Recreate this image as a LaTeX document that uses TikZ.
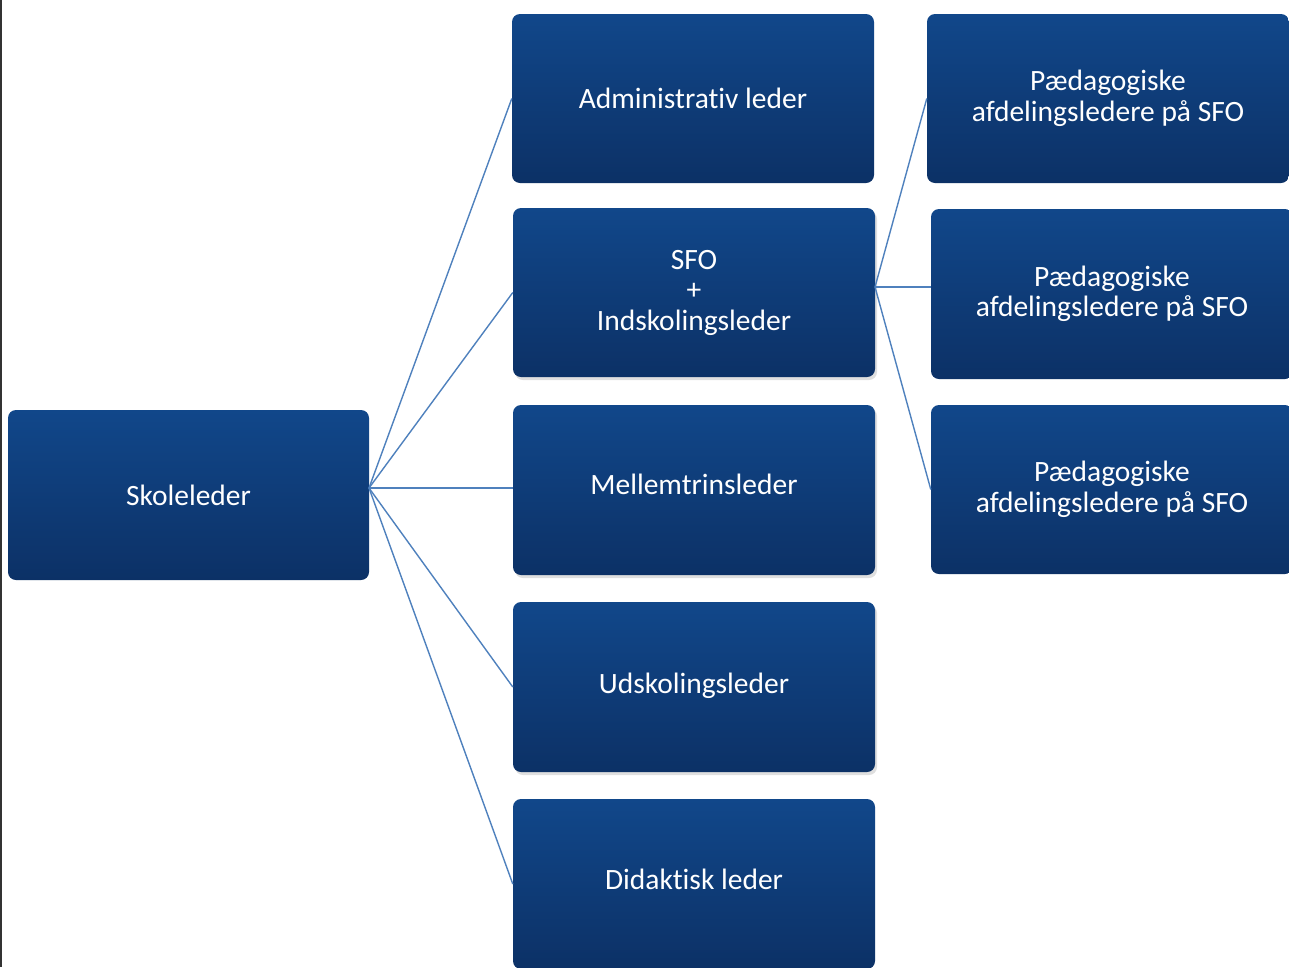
\documentclass[tikz,border=0pt]{standalone}
\usepackage{fontspec}
\setmainfont{Carlito}[Ligatures={NoCommon,NoRare}]
\usetikzlibrary{shadows}
\definecolor{boxtop}{HTML}{11478A}
\definecolor{boxbot}{HTML}{0C3166}
\definecolor{conn}{HTML}{4F81BD}
\tikzset{
  orgbox/.style={rectangle, rounded corners=8pt, top color=boxtop, bottom color=boxbot,
    draw=none, text=white, align=center, inner sep=0pt,
    font=\fontsize{29.5}{30.5}\selectfont},
  shadowbox/.style={orgbox, drop shadow={opacity=0.25, shadow xshift=2pt, shadow yshift=-3pt}},
  link/.style={draw=conn, line width=1.4pt}
}
\begin{document}
\begin{tikzpicture}[x=1pt,y=-1pt]
\useasboundingbox (0,0) rectangle (1289,967);
\fill[white] (0,0) rectangle (1289,967);
\draw[black!80, line width=1.5pt] (1,0) -- (1,967);
% left
\node[orgbox, minimum width=361pt, minimum height=170pt] (sk) at (188.5,495) {Skoleleder};
% middle column
\node[orgbox, minimum width=362pt, minimum height=169pt] (ad) at (693,98.5) {Administrativ leder};
\node[shadowbox, minimum width=362pt, minimum height=169pt] (sfo) at (694,292.5) {SFO\\+\\Indskolingsleder};
\node[shadowbox, minimum width=362pt, minimum height=170pt, text depth=12pt] (me) at (694,490) {Mellemtrinsleder};
\node[shadowbox, minimum width=362pt, minimum height=170pt, text depth=8pt] (ud) at (694,687) {Udskolingsleder};
\node[orgbox, minimum width=362pt, minimum height=170pt, text depth=10pt] (di) at (694,884) {Didaktisk leder};
% right column
\node[orgbox, minimum width=362pt, minimum height=169pt] (p1) at (1108,98.5) {Pædagogiske\\afdelingsledere på SFO};
\node[orgbox, minimum width=362pt, minimum height=170pt] (p2) at (1112,294) {Pædagogiske\\afdelingsledere på SFO};
\node[orgbox, minimum width=362pt, minimum height=169pt] (p3) at (1112,489.5) {Pædagogiske\\afdelingsledere på SFO};
% connectors
\coordinate (skr) at (369,488);
\draw[link] (skr) -- (ad.west);
\draw[link] (skr) -- (sfo.west);
\draw[link] (skr) -- (me.west |- skr);
\draw[link] (skr) -- (ud.west);
\draw[link] (skr) -- (di.west);
\coordinate (sfor) at (875,287);
\draw[link] (sfor) -- (p1.west);
\draw[link] (sfor) -- (p2.west |- sfor);
\draw[link] (sfor) -- (p3.west);
\end{tikzpicture}
\end{document}
